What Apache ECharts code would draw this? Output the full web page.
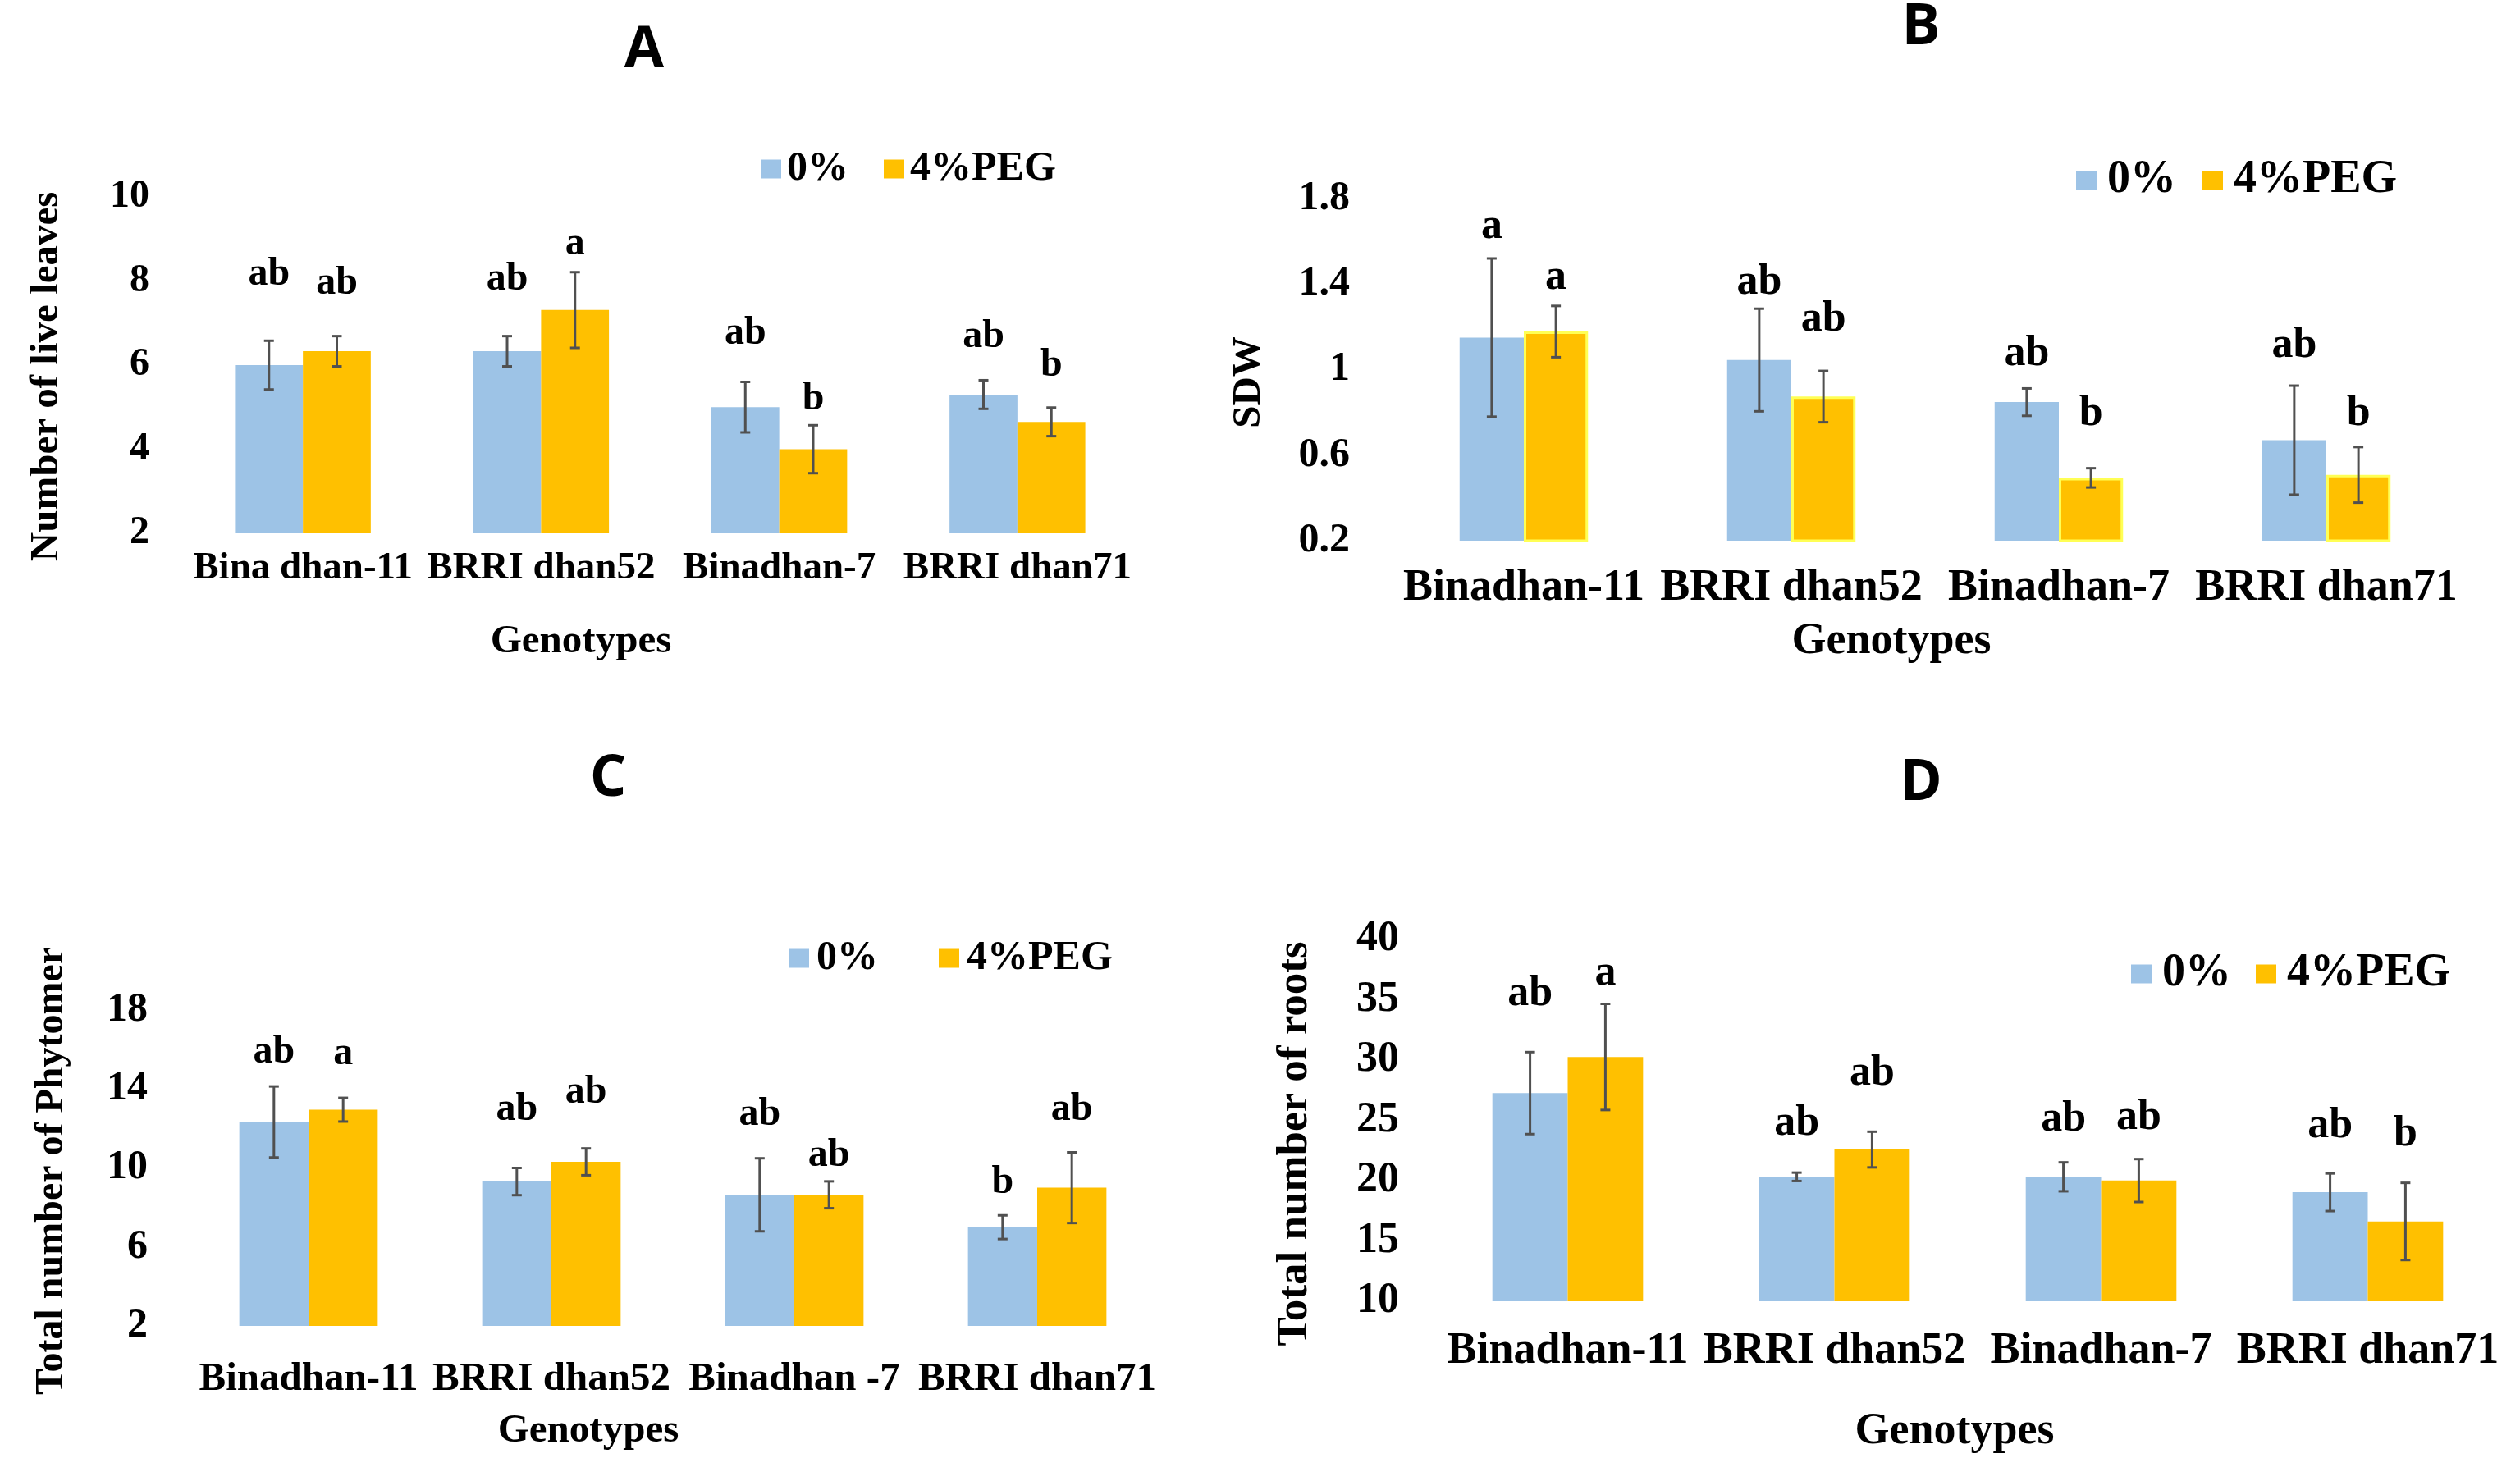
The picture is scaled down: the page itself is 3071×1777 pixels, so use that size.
<!DOCTYPE html>
<html><head><meta charset="utf-8">
<script src="https://cdn.jsdelivr.net/npm/echarts@6/dist/echarts.min.js"></script>
<style>html,body{margin:0;padding:0;background:#fff}#c{width:3071px;height:1777px}</style>
</head><body><div id="c"></div>
<script>
// ---------- DATA ----------
const seriesNames = ['0%', '4%PEG'];

const catsA = ['Bina dhan-11', 'BRRI dhan52', 'Binadhan-7', 'BRRI dhan71'];
const ticksA = [2, 4, 6, 8, 10];
const a0 = [6.0, 6.33, 5.0, 5.3];
const a0Err = [0.58, 0.36, 0.6, 0.34];
const a4 = [6.33, 7.31, 4.0, 4.65];
const a4Err = [0.36, 0.9, 0.57, 0.34];
const a0Let = ['ab', 'ab', 'ab', 'ab'];
const a0LetAt = [8.15, 8.03, 6.74, 6.67];
const a4Let = ['ab', 'a', 'b', 'b'];
const a4LetAt = [7.93, 8.87, 5.18, 5.98];

const catsB = ['Binadhan-11', 'BRRI dhan52', 'Binadhan-7', 'BRRI dhan71'];
const ticksB = [0.2, 0.6, 1, 1.4, 1.8];
const b0 = [1.15, 1.045, 0.848, 0.67];
const b0Err = [0.37, 0.24, 0.064, 0.255];
const b4 = [1.178, 0.874, 0.494, 0.508];
const b4Err = [0.12, 0.12, 0.045, 0.13];
const b0Let = ['a', 'ab', 'ab', 'ab'];
const b0LetAt = [1.668, 1.405, 1.071, 1.111];
const b4Let = ['a', 'ab', 'b', 'b'];
const b4LetAt = [1.429, 1.233, 0.793, 0.793];

const catsC = ['Binadhan-11', 'BRRI dhan52', 'Binadhan -7', 'BRRI dhan71'];
const ticksC = [2, 6, 10, 14, 18];
const c0 = [12.33, 9.31, 8.64, 7.0];
const c0Err = [1.8, 0.69, 1.85, 0.6];
const c4 = [12.95, 10.31, 8.64, 9.0];
const c4Err = [0.6, 0.68, 0.68, 1.79];
const c0Let = ['ab', 'ab', 'ab', 'b'];
const c0LetAt = [15.86, 12.93, 12.69, 9.26];
const c4Let = ['a', 'ab', 'ab', 'ab'];
const c4LetAt = [15.79, 13.83, 10.62, 12.93];

const catsD = ['Binadhan-11', 'BRRI dhan52', 'Binadhan-7', 'BRRI dhan71'];
const ticksD = [10, 15, 20, 25, 30, 35, 40];
const d0 = [27.26, 20.32, 20.32, 19.04];
const d0Err = [3.4, 0.35, 1.2, 1.56];
const d4 = [30.26, 22.58, 20.01, 16.62];
const d4Err = [4.4, 1.48, 1.78, 3.2];
const d0Let = ['ab', 'ab', 'ab', 'ab'];
const d0LetAt = [35.44, 24.69, 25.08, 24.53];
const d4Let = ['a', 'ab', 'ab', 'b'];
const d4LetAt = [37.15, 28.9, 25.19, 23.83];

// ---------- LAYOUT / STYLE ----------
const SERIF = 'Liberation Serif';
const BLUE = '#9DC3E6', GOLD = '#FFC000';

const panels = [
  {title: 'A', cats: catsA, ticks: ticksA, v0: a0, e0: a0Err, v4: a4, e4: a4Err, l0: a0Let, l0y: a0LetAt, l4: a4Let, l4y: a4LetAt,
   yName: 'Number of live leaves',
   grid: {left: 224, top: 240, width: 1161, height: 410}, gap: 43, tickFs: 48, tickMargin: 42, xFs: 47, xMargin: 19, letFs: 48,
   legend: {left: 927, cy: 206, fs: 50, gap: 43, tpad: 2}, titlePos: [785, 62], xNamePos: [708, 782], xNameFs: 49, yNamePos: [57, 459], yNameFs: 49, border: false},
  {title: 'B', cats: catsB, ticks: ticksB, v0: b0, e0: b0Err, v4: b4, e4: b4Err, l0: b0Let, l0y: b0LetAt, l4: b4Let, l4y: b4LetAt,
   yName: 'SDW',
   grid: {left: 1694, top: 242, width: 1304, height: 417}, gap: 52, tickFs: 50, tickMargin: 49, xFs: 54, xMargin: 31, letFs: 52,
   legend: {left: 2530, cy: 220, fs: 56, gap: 32, tpad: 8}, titlePos: [2341, 34], xNamePos: [2305, 782], xNameFs: 54, yNamePos: [1522, 466], yNameFs: 49, border: true},
  {title: 'C', cats: catsC, ticks: ticksC, v0: c0, e0: c0Err, v4: c4, e4: c4Err, l0: c0Let, l0y: c0LetAt, l4: c4Let, l4y: c4LetAt,
   yName: 'Total number of Phytomer',
   grid: {left: 228, top: 1231, width: 1184, height: 385}, gap: 43, tickFs: 50, tickMargin: 48, xFs: 49, xMargin: 41, letFs: 48,
   legend: {left: 961, cy: 1168, fs: 50, gap: 74, tpad: 4}, titlePos: [741, 950], xNamePos: [717, 1744], xNameFs: 49, yNamePos: [64, 1427], yNameFs: 48, border: false},
  {title: 'D', cats: catsD, ticks: ticksD, v0: d0, e0: d0Err, v4: d4, e4: d4Err, l0: d0Let, l0y: d0LetAt, l4: d4Let, l4y: d4LetAt,
   yName: 'Total number of roots',
   grid: {left: 1748, top: 1145, width: 1300, height: 441}, gap: 43.5, tickFs: 52, tickMargin: 43, xFs: 54, xMargin: 34, letFs: 52,
   legend: {left: 2597, cy: 1187, fs: 56, gap: 30, tpad: 8}, titlePos: [2341, 955], xNamePos: [2382, 1745], xNameFs: 54, yNamePos: [1578, 1394], yNameFs: 53, border: false}
];

function errSeries(p, pi, side, vals, errs, lets, letAt) {
  return {
    type: 'custom', xAxisIndex: pi, yAxisIndex: pi, z: 5, silent: true,
    data: vals.map((v, i) => [i, v, errs[i], letAt[i]]),
    encode: {x: 0, y: 1},
    renderItem: (params, api) => {
      const i = api.value(0), v = api.value(1), e = api.value(2), ly = api.value(3);
      const band = api.size([1, 0])[0];
      const bw = band * (1 - p.gap / 100) / 2;
      const c = api.coord([i, v]);
      const x = c[0] + side * bw / 2;
      const yT = api.coord([i, v + e])[1], yB = api.coord([i, v - e])[1];
      const yL = api.coord([i, ly])[1];
      const st = {stroke: '#505050', lineWidth: 3};
      return {type: 'group', children: [
        {type: 'line', shape: {x1: x, y1: yT, x2: x, y2: yB}, style: st},
        {type: 'line', shape: {x1: x - 6, y1: yT, x2: x + 6, y2: yT}, style: st},
        {type: 'line', shape: {x1: x - 6, y1: yB, x2: x + 6, y2: yB}, style: st},
        {type: 'text', x: x, y: yL, style: {text: lets[params.dataIndex], fontSize: p.letFs, fontWeight: 'bold', fontFamily: SERIF, fill: '#000', align: 'center', verticalAlign: 'middle', textAlign: 'center', textVerticalAlign: 'middle'}}
      ]};
    }
  };
}

const option = {
  backgroundColor: '#fff',
  animation: false,
  grid: [], xAxis: [], yAxis: [], legend: [], series: [], graphic: []
};

panels.forEach((p, pi) => {
  option.grid.push(Object.assign({outerBoundsMode: 'none', containLabel: false}, p.grid));
  option.xAxis.push({
    type: 'category', gridIndex: pi, data: p.cats,
    axisLine: {show: false}, axisTick: {show: false}, splitLine: {show: false},
    axisLabel: {interval: 0, margin: p.xMargin, fontSize: p.xFs, fontWeight: 'bold', fontFamily: SERIF, color: '#000'}
  });
  option.yAxis.push({
    type: 'value', gridIndex: pi, min: p.ticks[0], max: p.ticks[p.ticks.length - 1],
    axisLine: {show: false}, axisTick: {show: false}, splitLine: {show: false},
    axisLabel: {customValues: p.ticks, margin: p.tickMargin, fontSize: p.tickFs, fontWeight: 'bold', fontFamily: SERIF, color: '#000'}
  });
  option.legend.push({
    data: seriesNames, left: p.legend.left, top: p.legend.cy - p.legend.fs / 2, padding: 0,
    orient: 'horizontal', icon: 'rect', itemWidth: 25, itemHeight: 23, itemGap: p.legend.gap,
    selectedMode: false,
    textStyle: {fontSize: p.legend.fs, fontWeight: 'bold', fontFamily: SERIF, color: '#000', padding: [0, 0, 0, p.legend.tpad]}
  });
  option.series.push({
    name: seriesNames[0], type: 'bar', xAxisIndex: pi, yAxisIndex: pi, data: p.v0,
    barGap: '0%', barCategoryGap: p.gap + '%', itemStyle: {color: BLUE}
  });
  option.series.push({
    name: seriesNames[1], type: 'bar', xAxisIndex: pi, yAxisIndex: pi, data: p.v4,
    barGap: '0%', barCategoryGap: p.gap + '%',
    itemStyle: p.border ? {color: GOLD, borderColor: '#FFFF55', borderWidth: 3} : {color: GOLD}
  });
  option.series.push(errSeries(p, pi, -1, p.v0, p.e0, p.l0, p.l0y));
  option.series.push(errSeries(p, pi, 1, p.v4, p.e4, p.l4, p.l4y));
  option.graphic.push({type: 'text', x: p.titlePos[0], y: p.titlePos[1],
    style: {text: p.title, fontSize: 70, fontWeight: 'bold', fontFamily: 'Open Sans', fill: '#000', align: 'center', verticalAlign: 'middle'}});
  option.graphic.push({type: 'text', x: p.xNamePos[0], y: p.xNamePos[1],
    style: {text: 'Genotypes', fontSize: p.xNameFs, fontWeight: 'bold', fontFamily: SERIF, fill: '#000', align: 'center', verticalAlign: 'middle'}});
  option.graphic.push({type: 'text', x: p.yNamePos[0], y: p.yNamePos[1], rotation: Math.PI / 2,
    style: {text: p.yName, fontSize: p.yNameFs, fontWeight: 'bold', fontFamily: SERIF, fill: '#000', align: 'center', verticalAlign: 'middle'}});
});

const chart = echarts.init(document.getElementById('c'), null, {renderer: 'canvas', width: 3071, height: 1777});
chart.setOption(option);
</script>
</body></html>
